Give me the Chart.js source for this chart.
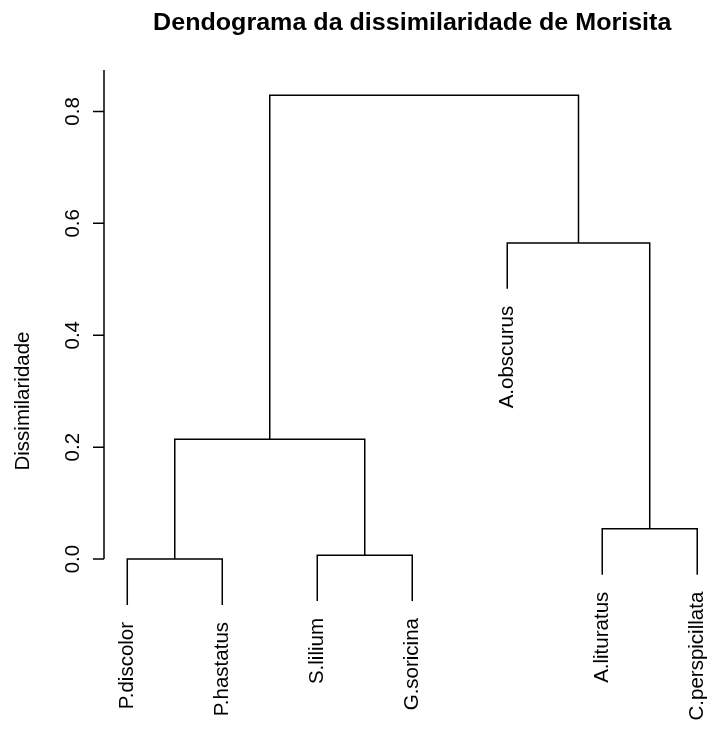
<!DOCTYPE html>
<html>
<head>
<meta charset="utf-8">
<script src="https://cdn.jsdelivr.net/npm/chart.js@4"></script>
<style>
  html, body { margin: 0; padding: 0; background: #fff; }
  #chart { display: block; }
</style>
</head>
<body>
<canvas id="chart" width="711" height="729"></canvas>
<script>
// leaves in plot order (left to right)
const leafLabels = ['P.discolor', 'P.hastatus', 'S.lilium', 'G.soricina', 'A.obscurus', 'A.lituratus', 'C.perspicillata'];
// merges, R hclust style: negative = leaf number, positive = earlier merge
const mergeLeft = [-1, -3, -6, 1, -5, 4];
const mergeRight = [-2, -4, -7, 2, 3, 5];
const mergeHeight = [0.0, 0.007, 0.054, 0.214, 0.565, 0.829];
const yTicks = [0.0, 0.2, 0.4, 0.6, 0.8];
const hang = 0.082;

const titleText = 'Dendograma da dissimilaridade de Morisita';
const yTitle = 'Dissimilaridade';

const FONT = 'Liberation Sans, Arial, sans-serif';

// --- build the U-shapes ---
const nodeX = [];
function posOf(id) {
    return id < 0 ? -id : nodeX[id - 1];
}
function bottomOf(id, h) {
    return id < 0 ? h - hang : mergeHeight[id - 1];
}
const datasets = [];
mergeLeft.forEach((l, i) => {
    const r = mergeRight[i];
    const h = mergeHeight[i];
    const xl = posOf(l), xr = posOf(r);
    nodeX.push((xl + xr) / 2);
    datasets.push({
        data: [
            { x: xl, y: bottomOf(l, h) },
            { x: xl, y: h },
            { x: xr, y: h },
            { x: xr, y: bottomOf(r, h) }
        ],
        showLine: true,
        borderColor: '#000',
        borderWidth: 1.5,
        pointRadius: 0,
        tension: 0
    });
});

function vText(ctx, txt, x, y) {
    ctx.save();
    ctx.translate(x, y);
    ctx.rotate(-Math.PI / 2);
    ctx.fillText(txt, 0, 0);
    ctx.restore();
}

// axis, labels and title drawn R-style
const rStyle = {
    id: 'rStyle',
    afterDraw(chart) {
        const ctx = chart.ctx;
        const xs = chart.scales.x, ys = chart.scales.y;
        const area = chart.chartArea;
        const ax = area.left;

        ctx.save();
        ctx.strokeStyle = '#000';
        ctx.lineWidth = 1.5;
        ctx.beginPath();
        ctx.moveTo(ax, area.top);
        ctx.lineTo(ax, ys.getPixelForValue(0));
        yTicks.forEach(v => {
            const py = ys.getPixelForValue(v);
            ctx.moveTo(ax, py);
            ctx.lineTo(ax - 11, py);
        });
        ctx.stroke();

        ctx.fillStyle = '#000';
        ctx.font = '20.5px ' + FONT;
        ctx.textBaseline = 'alphabetic';

        // tick labels
        ctx.textAlign = 'center';
        yTicks.forEach(v => vText(ctx, v.toFixed(1), 79, ys.getPixelForValue(v)));

        // axis title
        vText(ctx, yTitle, 29, 401);

        // leaf labels, hanging under each leaf
        ctx.textAlign = 'right';
        leafLabels.forEach((lab, i) => {
            const id = -(i + 1);
            let h = 0;
            mergeLeft.forEach((l, k) => { if (l === id || mergeRight[k] === id) h = mergeHeight[k]; });
            const px = xs.getPixelForValue(i + 1);
            const py = ys.getPixelForValue(h - hang);
            vText(ctx, lab, px + 6, py + 17);
        });

        // title
        ctx.font = 'bold 23px ' + FONT;
        ctx.textAlign = 'center';
        ctx.save();
        ctx.translate(xs.getPixelForValue(4), 29.5);
        ctx.scale(1.09, 1);
        ctx.fillText(titleText, 0, 0);
        ctx.restore();
        ctx.restore();
    }
};

new Chart(document.getElementById('chart'), {
    type: 'scatter',
    data: { datasets },
    options: {
        responsive: false,
        animation: false,
        layout: { padding: { left: 104, right: 0, top: 70, bottom: 100 } },
        plugins: { legend: { display: false }, tooltip: { enabled: false } },
        scales: {
            x: { type: 'linear', display: false, min: 0.755, max: 7.145 },
            y: { type: 'linear', display: false, min: -0.125, max: 0.874 }
        }
    },
    plugins: [rStyle]
});
</script>
</body>
</html>
